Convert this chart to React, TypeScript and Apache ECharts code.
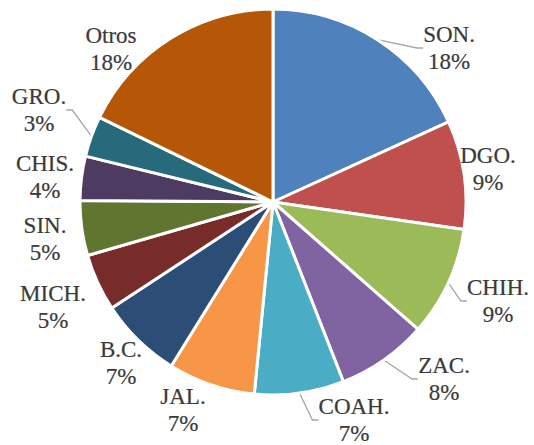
import React, { useEffect, useRef } from "react";
import * as echarts from "echarts";

const categories = ["SON.", "DGO.", "CHIH.", "ZAC.", "COAH.", "JAL.", "B.C.", "MICH.", "SIN.", "CHIS.", "GRO.", "Otros"];
const values = [18.2, 9.1, 9.2, 7.6, 7.5, 7.3, 6.9, 4.8, 4.6, 3.7, 3.4, 17.8];

const colors = [
  "#4F81BD", "#C0504D", "#9BBB59", "#8064A2", "#4BACC6", "#F79646",
  "#2C4D75", "#772C2A", "#5F7530", "#4D3B62", "#276A7C", "#B65708",
];
const labelCenters: [number, number][] = [
  [449, 48], [488, 169], [498, 301], [444, 379], [354, 420], [183, 410],
  [121, 363], [53, 307], [45, 239], [45, 177], [39, 110], [111, 49],
];
const hasLeader = [true, false, true, true, true, false, false, false, false, false, true, false];

const FONT = "Liberation Serif";

export default function App() {
  const ref = useRef<HTMLDivElement>(null);
  useEffect(() => {
    if (!ref.current) return;
    const chart = echarts.init(ref.current, null, { renderer: "svg" });
    chart.setOption({
      animation: false,
      textStyle: { fontFamily: FONT },
      series: [
        {
          type: "pie",
          center: [273, 202],
          radius: 193,
          startAngle: 90,
          clockwise: true,
          avoidLabelOverlap: false,
          itemStyle: { borderColor: "#ffffff", borderWidth: 3 },
          emphasis: { disabled: true },
          label: {
            show: true,
            position: "outside",
            fontFamily: FONT,
            fontSize: 23,
            lineHeight: 27,
            color: "#3A3A3A",
            textBorderColor: "#3A3A3A",
            textBorderWidth: 0.2,
            align: "center",
            formatter: (p: any) => `${p.name}\n${Math.round(p.percent)}%`,
          },
          labelLine: {
            show: true,
            length: 10,
            length2: 6,
            lineStyle: { color: "#A6A6A6", width: 1.3 },
          },
          labelLayout: (params: any) => {
            const c = labelCenters[params.dataIndex];
            return { x: c[0], y: c[1], align: "center", verticalAlign: "middle", hideOverlap: false };
          },
          data: categories.map((name, i) => ({
            name,
            value: values[i],
            itemStyle: { color: colors[i] },
            labelLine: { show: hasLeader[i] },
          })),
        },
      ],
    });
    return () => chart.dispose();
  }, []);
  return (
    <div
      ref={ref}
      style={{ position: "absolute", left: 0, top: 0, width: 534, height: 445, background: "#fff" }}
    />
  );
}
